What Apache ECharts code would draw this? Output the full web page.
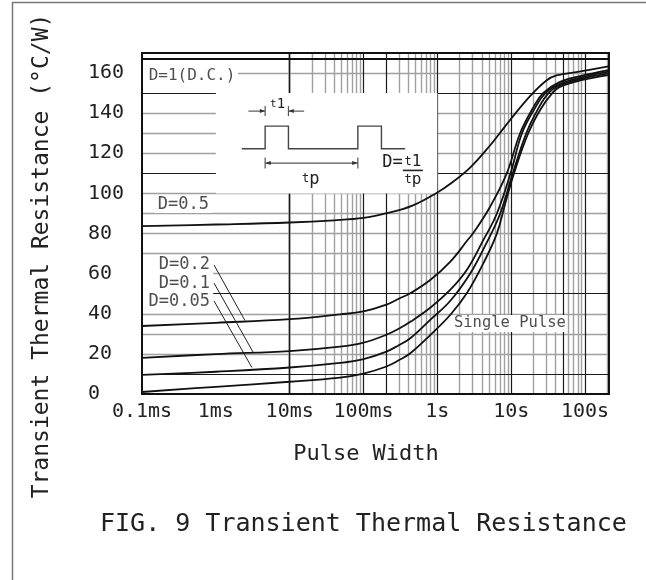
<!DOCTYPE html>
<html><head><meta charset="utf-8">
<script src="https://cdn.jsdelivr.net/npm/echarts@6/dist/echarts.min.js"></script>
<style>html,body{margin:0;padding:0;background:#fff}#c{width:646px;height:580px}</style>
</head><body><div id="c"></div>
<script>
const FONT = '"DejaVu Sans Mono", monospace';

// ---- axis ticks ----
const xTickValues = [1e-4, 1e-3, 1e-2, 0.1, 1, 10, 100];
const xTickLabels = ['0.1ms', '1ms', '10ms', '100ms', '1s', '10s', '100s'];
const yTickLabels = [0, 20, 40, 60, 80, 100, 120, 140, 160];

// ---- curves: [pulse width (s), thermal resistance (°C/W)] ----
const seriesD1 = [[1e-4, 167], [211, 167]];
const seriesD05 = [[1e-4,83.7],[1e-3,84.5],[1e-2,85.5],[0.04,86.6],[0.1,87.8],[0.2,90],[0.45,93.8],[1,100.5],[1.5,104.8],[2.8,113],[5.2,124],[7,130],[9.6,136.5],[18,148.5],[30,156.3],[41,158.8],[86,160.8],[207,163.3]];
const seriesD02 = [[1e-4,33.9],[1e-3,35.5],[1e-2,37.3],[0.048,39.7],[0.1,41.2],[0.2,44.4],[0.3,47.5],[0.43,50.2],[0.8,56.8],[1.5,66],[2.6,77],[3.1,80.5],[5.2,93.5],[8.7,110],[13.2,130],[20,143],[27,150],[45,155.5],[86,158.5],[207,161.5]];
const seriesD01 = [[1e-4,18],[1e-3,19.9],[1e-2,21.4],[0.048,23.6],[0.1,25.6],[0.2,29.4],[0.3,32.5],[0.43,36],[0.8,43],[1.5,52],[2.5,61.8],[4.2,76.8],[6.4,90],[9.8,110],[14,130],[21,142.5],[29,150],[45,154.5],[86,157.7],[207,160.7]];
const seriesD005 = [[1e-4,9.5],[1e-3,11.1],[1e-2,13.2],[0.048,15.5],[0.1,17.4],[0.2,21],[0.3,24.3],[0.43,27.8],[0.8,37],[1.5,46.5],[2.8,60.2],[4.6,75.1],[7.1,90],[10.5,110],[16,130],[23,142],[32,150],[45,153.8],[86,157],[207,159.8]];
const seriesSingle = [[1e-4,1.0],[1e-3,3.6],[1e-2,6.1],[0.048,8.2],[0.1,10.2],[0.2,13.6],[0.3,16.8],[0.43,20.3],[0.8,29.4],[1.5,39.5],[2.5,50.2],[4.2,65.2],[6.4,80.1],[8.3,95],[10.9,110],[17,130],[25,142],[36,150],[45,153],[86,156.3],[207,159]];

// ---- annotations (data coordinates) ----
const annoLabels = [
  { text: 'D=1(D.C.)', t: 4.76e-4, v: 158.5, size: 16, pos: 'inside' },
  { text: 'D=0.5', t: 3.63e-4, v: 94.2, size: 17, pos: 'inside' },
  { text: 'D=0.2', t: 8.34e-4, v: 64.3, size: 17, pos: 'left' },
  { text: 'D=0.1', t: 8.34e-4, v: 55.2, size: 17, pos: 'left' },
  { text: 'D=0.05', t: 8.34e-4, v: 46.0, size: 17, pos: 'left' },
  { text: 'Single Pulse', t: 9.6, v: 35.4, size: 15.5, pos: 'inside' }
];
const leaderLines = [
  [[9.45e-4, 64.3], [2.48e-3, 36.6]],
  [[9.45e-4, 55.3], [3.19e-3, 20.9]],
  [[9.45e-4, 46.4], [3.08e-3, 13.2]]
];
const whiteBoxes = [
  [[1e-4, 150], [2e-3, 167]],
  [[1e-3, 100], [1, 150]],
  [[1.5e-4, 90.2], [8.9e-4, 98.2]],
  [[1e-4, 42], [9.2e-4, 68.5]],
  [[1.63, 30.9], [57, 39.4]]
];

// ---- grid paper lines ----
const xMajorGrid = [2e-4, 1e-3, 1e-2, 0.1, 0.2, 1, 10, 50, 100];
const xMinorGrid = [];
for (let e = -4; e <= 2; e++) {
  for (let m = 2; m <= 9; m++) {
    const v = m * Math.pow(10, e);
    if (v > 205) continue;
    if (xMajorGrid.some(g => Math.abs(g - v) / v < 1e-6)) continue;
    xMinorGrid.push(v);
  }
}
const yMajorGrid = [10, 50, 110, 150];
const yMinorGrid = [20, 30, 40, 60, 70, 80, 90, 100, 120, 130, 140, 160];

const GRAY = { color: '#a0a0a0', width: 1.4, type: 'solid' };
const DARK = { color: '#1a1a1a', width: 1.2, type: 'solid' };
const gridMarks = []
  .concat(xMinorGrid.map(v => ({ xAxis: v, lineStyle: GRAY })))
  .concat(yMinorGrid.map(v => ({ yAxis: v, lineStyle: GRAY })))
  .concat(xMajorGrid.map(v => ({ xAxis: v, lineStyle: DARK })))
  .concat(yMajorGrid.map(v => ({ yAxis: v, lineStyle: DARK })));

const chart = echarts.init(document.getElementById('c'), null, { renderer: 'canvas' });

function curve(name, data) {
  return {
    name, type: 'line', data, z: 3, showSymbol: false, symbol: 'none',
    smooth: 0.4,
    lineStyle: { color: '#111', width: 1.8 }, silent: true
  };
}

const option = {
  animation: false,
  backgroundColor: '#fff',
  grid: { left: 142, right: 37, top: 53, bottom: 186, show: true, borderColor: '#111', borderWidth: 2, backgroundColor: 'transparent', z: 10 },
  xAxis: {
    type: 'log', logBase: 10, min: 1e-4, max: 211,
    splitLine: { show: false }, axisTick: { show: false }, axisLine: { show: false },
    minorTick: { show: false }, minorSplitLine: { show: false },
    axisLabel: {
      fontFamily: FONT, fontSize: 20, color: '#222', margin: 8,
      formatter: function (v) {
        const i = Math.round(Math.log10(v)) + 4;
        if (i >= 0 && i < xTickValues.length && Math.abs(v - xTickValues[i]) / xTickValues[i] < 1e-6) return xTickLabels[i];
        return '';
      }
    }
  },
  yAxis: {
    type: 'value', min: 0, max: 170, interval: 20,
    splitLine: { show: false }, axisTick: { show: false }, axisLine: { show: false },
    axisLabel: {
      fontFamily: FONT, fontSize: 20, color: '#222', margin: 54, align: 'left',
      formatter: v => (yTickLabels.indexOf(v) >= 0 ? String(v) : '')
    }
  },
  series: [
    {
      name: 'grid', type: 'line', data: [[1e-3, 0]], symbol: 'none', showSymbol: false,
      lineStyle: { opacity: 0 }, silent: true, z: 1,
      markLine: { silent: true, symbol: ['none', 'none'], label: { show: false }, z: 1, animation: false, data: gridMarks },
      markArea: {
        silent: true, z: 2, itemStyle: { color: '#fff', borderWidth: 0 }, label: { show: false },
        data: whiteBoxes.map(b => [{ coord: b[0] }, { coord: b[1] }])
      }
    },
    curve('D=1', seriesD1),
    curve('D=0.5', seriesD05),
    curve('D=0.2', seriesD02),
    curve('D=0.1', seriesD01),
    curve('D=0.05', seriesD005),
    curve('Single Pulse', seriesSingle),
    {
      name: 'leaders', type: 'line', data: [], z: 4, silent: true,
      markLine: {
        silent: true, symbol: ['none', 'none'], label: { show: false }, z: 4, animation: false,
        lineStyle: { color: '#222', width: 1, type: 'solid' },
        data: leaderLines.map(l => [{ coord: l[0] }, { coord: l[1] }])
      }
    },
    {
      name: 'labels', type: 'scatter', z: 6, silent: true, symbolSize: 0,
      data: annoLabels.map(a => ({
        value: [a.t, a.v],
        label: {
          show: true, formatter: a.text, position: a.pos, distance: 0,
          fontFamily: FONT, fontSize: a.size, color: '#222'
        }
      }))
    }
  ],
  graphic: [
    { type: 'rect', silent: true, shape: { x: 12.5, y: 2.5, width: 700, height: 700 }, style: { fill: 'none', stroke: '#777', lineWidth: 1.5 } },
    { type: 'text', silent: true, x: 42, y: 256, rotation: Math.PI / 2,
      style: { text: 'Transient Thermal Resistance (°C/W)', font: '23px ' + FONT, fill: '#222', textAlign: 'center', textVerticalAlign: 'middle' } },
    { type: 'text', silent: true, x: 366, y: 454,
      style: { text: 'Pulse Width', font: '22px ' + FONT, fill: '#222', textAlign: 'center', textVerticalAlign: 'middle' } },
    { type: 'text', silent: true, x: 100, y: 524,
      style: { text: 'FIG. 9 Transient Thermal Resistance', font: '25px ' + FONT, fill: '#222', textAlign: 'left', textVerticalAlign: 'middle' } }
  ]
};
chart.setOption(option);

// inset pulse diagram anchored at the inset's data corner (1 ms, 150)
const o = chart.convertToPixel({ xAxisIndex: 0, yAxisIndex: 0 }, [1e-3, 150]);
const LC = '#555';
const ZZ = 50;
function seg(x1, y1, x2, y2, w, c) {
  return { type: 'line', silent: true, z: ZZ, shape: { x1: x1, y1: y1, x2: x2, y2: y2 }, style: { stroke: c || LC, lineWidth: w || 1.2 } };
}
function tri(pts) {
  return { type: 'polygon', silent: true, z: ZZ, shape: { points: pts }, style: { fill: '#333' } };
}
function rtext(x, y, small, big, sSize, bSize) {
  return { type: 'text', silent: true, z: ZZ, x: x, y: y,
    style: { text: '{a|' + small + '}{b|' + big + '}', rich: { a: { fontSize: sSize, fontFamily: FONT, fill: '#222' }, b: { fontSize: bSize, fontFamily: FONT, fill: '#222' } }, textAlign: 'center', textVerticalAlign: 'middle' } };
}
const insetChildren = [
  { type: 'polyline', silent: true, z: ZZ, shape: { points: [[26,55.6],[49.3,55.6],[49.3,33],[72.6,33],[72.6,55.6],[142,55.6],[142,33],[165.6,33],[165.6,55.6],[189.3,55.6]] },
    style: { stroke: '#444', lineWidth: 1.4, fill: 'none' } },
  seg(32.6, 18, 49.3, 18), tri([[49.3,18],[44,16],[44,20]]),
  seg(88.3, 18, 72.6, 18), tri([[72.6,18],[78,16],[78,20]]),
  seg(49.3, 13, 49.3, 23), seg(72.6, 13, 72.6, 23),
  rtext(61.7, 11, 't', '1', 11, 14),
  seg(49.3, 70, 142, 70), seg(49.3, 64.5, 49.3, 75.5), seg(142, 64.5, 142, 75.5),
  tri([[49.3,70],[55,68],[55,72]]), tri([[142,70],[136.3,68],[136.3,72]]),
  rtext(95, 86, 't', 'p', 12, 17),
  { type: 'text', silent: true, z: ZZ, x: 187, y: 69, style: { text: 'D=', font: '17px ' + FONT, fill: '#222', textAlign: 'right', textVerticalAlign: 'middle' } },
  rtext(197, 69, 't', '1', 12, 16),
  seg(187, 77.3, 207, 77.3, 1.6, '#222'),
  rtext(197, 87, 't', 'p', 12, 16)
];
const g = option.graphic.slice();
g.push({ type: 'group', x: o[0], y: o[1], z: ZZ, children: insetChildren });
chart.setOption({ graphic: g });
</script>
</body></html>
